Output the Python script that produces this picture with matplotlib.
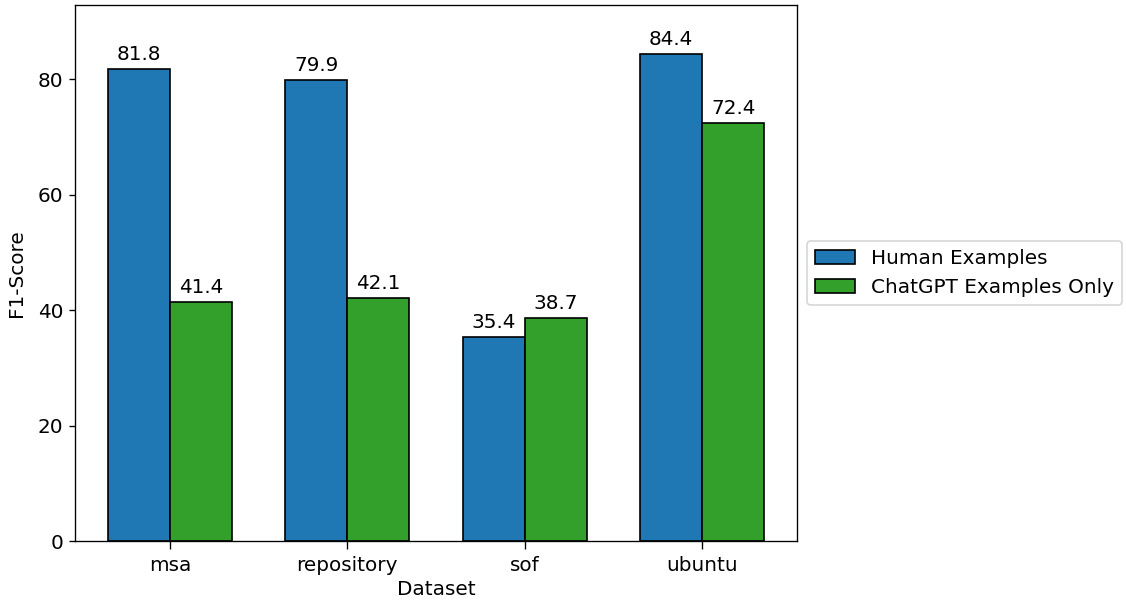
import matplotlib
matplotlib.use("Agg")
import matplotlib.pyplot as plt
import numpy as np

datasets = ["msa", "repository", "sof", "ubuntu"]
human_scores = [81.8, 79.9, 35.4, 84.4]
chatgpt_scores = [41.4, 42.1, 38.7, 72.4]

HUMAN_COLOR = "#1f77b4"
CHATGPT_COLOR = "#33a02c"

plt.rcParams["font.size"] = 12

fig = plt.figure(figsize=(1126 / 120, 5), dpi=120)
ax = fig.add_axes([0.0666, 0.0983, 0.6412, 0.8934])

x = np.arange(len(datasets))
width = 0.35

bars_h = ax.bar(x - width / 2, human_scores, width, color=HUMAN_COLOR,
                edgecolor="black", linewidth=1.0, label="Human Examples")
bars_c = ax.bar(x + width / 2, chatgpt_scores, width, color=CHATGPT_COLOR,
                edgecolor="black", linewidth=1.0, label="ChatGPT Examples Only")

for bars in (bars_h, bars_c):
    for b in bars:
        h = b.get_height()
        ax.annotate(f"{h:.1f}", xy=(b.get_x() + b.get_width() / 2, h),
                    xytext=(0, 3), textcoords="offset points",
                    ha="center", va="bottom")

ax.set_xticks(x)
ax.set_xticklabels(datasets)
ax.tick_params(axis="x", length=4.5, pad=4.5)
ax.set_xlabel("Dataset", labelpad=3)
ax.set_ylabel("F1-Score", labelpad=7)
ax.set_ylim(0, max(human_scores + chatgpt_scores) * 1.1)

ax.legend(loc="center left", bbox_to_anchor=(1.0, 0.5))

fig.savefig("out.png")
